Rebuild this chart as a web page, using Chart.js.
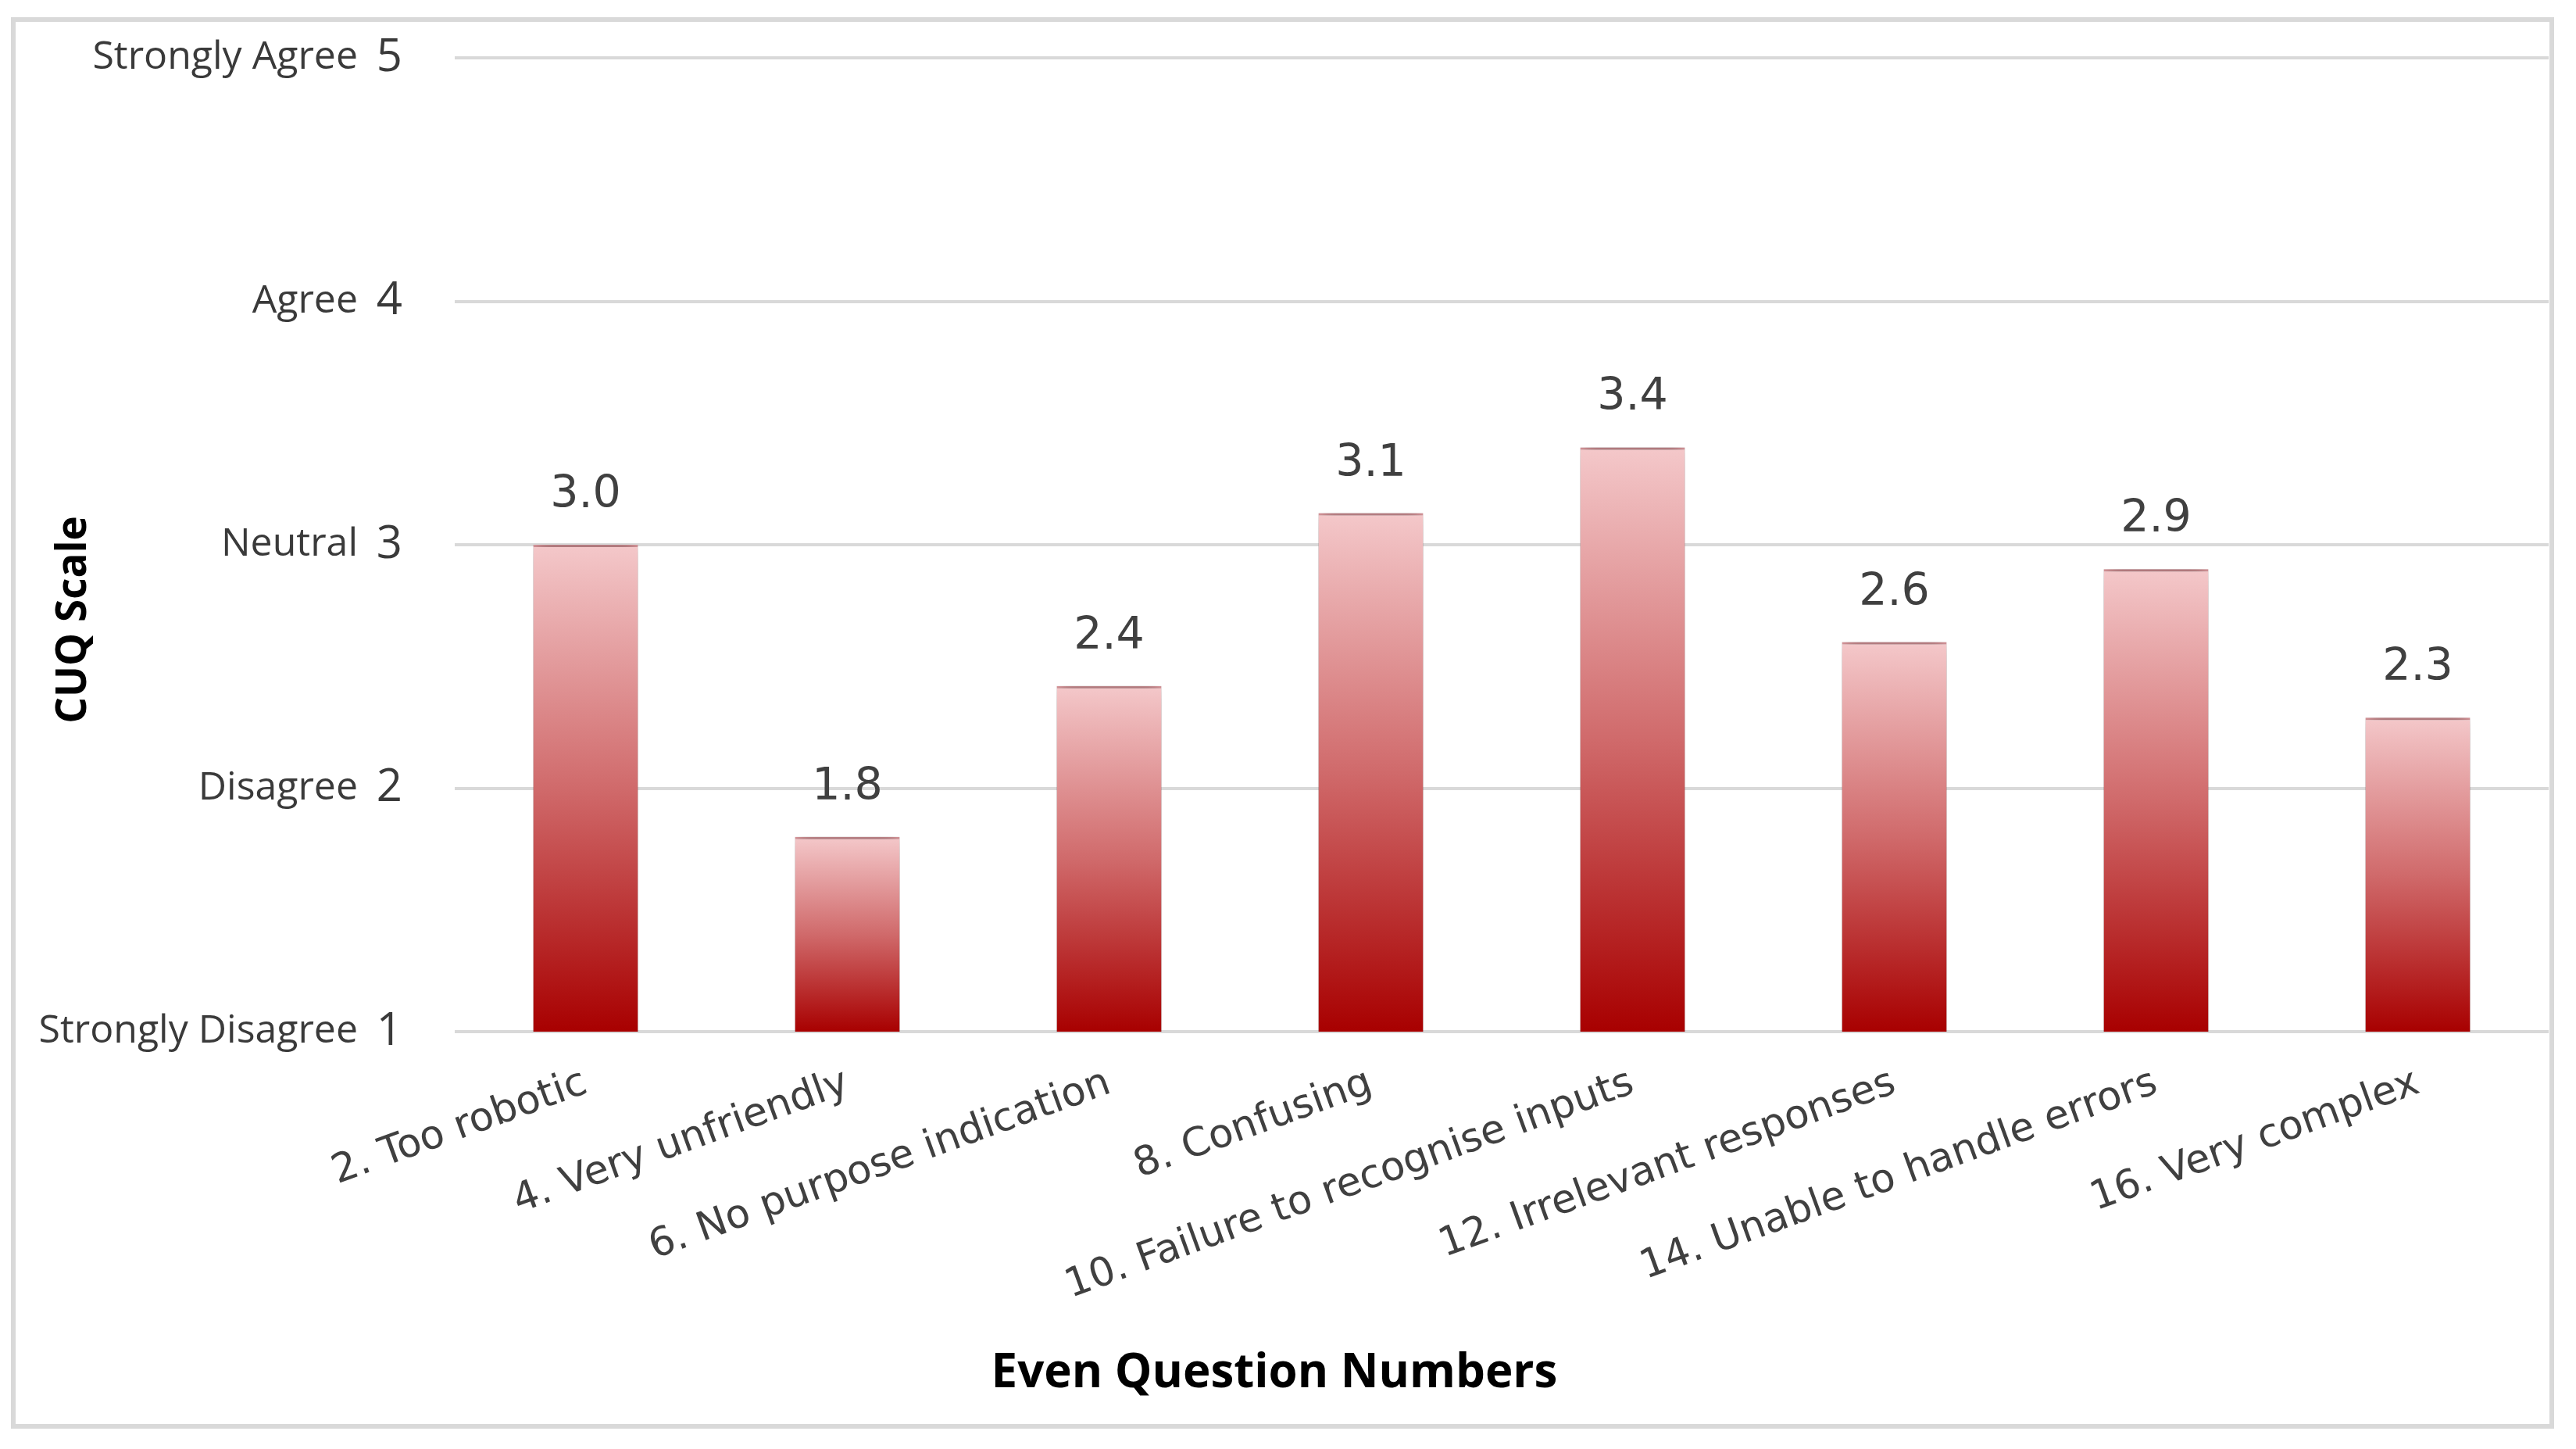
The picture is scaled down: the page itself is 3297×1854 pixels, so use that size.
<!DOCTYPE html>
<html>
<head>
<meta charset="utf-8">
<script src="https://cdn.jsdelivr.net/npm/chart.js@4.4.0/dist/chart.umd.min.js"></script>
<style>
  html, body { margin: 0; padding: 0; background: #fff; }
  #frame { position: absolute; left: 14px; top: 22px; width: 3255px; height: 1806px;
           border: 6px solid #d9d9d9; box-sizing: border-box; }
  #wrap { position: absolute; left: 0; top: 0; width: 3297px; height: 1854px; }
</style>
</head>
<body>
<div id="frame"></div>
<div id="wrap"><canvas id="cuqChart"></canvas></div>
<script>
const questions = [
    '2. Too robotic',
    '4. Very unfriendly',
    '6. No purpose indication',
    '8. Confusing',
    '10. Failure to recognise inputs',
    '12. Irrelevant responses',
    '14. Unable to handle errors',
    '16. Very complex',
];
const scores = [3.0, 1.8, 2.42, 3.13, 3.4, 2.6, 2.9, 2.29];
const scaleWords = ['Strongly Disagree', 'Disagree', 'Neutral', 'Agree', 'Strongly Agree'];
const xTitle = 'Even Question Numbers';
const yTitle = 'CUQ Scale';

// gradient per bar, light pink at the top down to dark red at the base
function barFill(c) {
    const chart = c.chart;
    if (!chart.chartArea || c.dataIndex === undefined) return '#a80000';
    const y = chart.scales.y;
    const top = y.getPixelForValue(scores[c.dataIndex]);
    const bottom = y.getPixelForValue(1);
    const g = chart.ctx.createLinearGradient(0, top, 0, bottom);
    g.addColorStop(0, '#f4c8ca');
    g.addColorStop(0.5, '#d06a6b');
    g.addColorStop(1, '#a80000');
    return g;
}

const barShadow = {
    id: 'barShadow',
    beforeDatasetsDraw(chart) {
        const ctx = chart.ctx;
        ctx.save();
        ctx.shadowColor = 'rgba(0, 0, 0, 0.6)';
        ctx.shadowBlur = 22;
    },
    afterDatasetsDraw(chart) {
        chart.ctx.restore();
    },
};

const valueLabels = {
    id: 'valueLabels',
    afterDraw(chart) {
        const ctx = chart.ctx;
        ctx.save();
        ctx.font = '57px "DejaVu Sans"';
        ctx.fillStyle = '#404040';
        ctx.textAlign = 'center';
        ctx.textBaseline = 'alphabetic';
        chart.getDatasetMeta(0).data.forEach((bar, i) => {
            ctx.fillText(scores[i].toFixed(1), bar.x, bar.y - 48);
        });
        ctx.restore();
    },
};

const sideTitle = {
    id: 'sideTitle',
    afterDraw(chart) {
        const ctx = chart.ctx;
        const a = chart.chartArea;
        ctx.save();
        ctx.translate(95, a.top + (a.bottom - a.top) * 0.577);
        ctx.rotate(-Math.PI / 2);
        ctx.font = 'bold 53px "Open Sans"';
        ctx.fillStyle = '#000';
        ctx.textAlign = 'center';
        ctx.textBaseline = 'middle';
        ctx.fillText(yTitle, 0, 0);
        ctx.restore();
    },
};

new Chart(document.getElementById('cuqChart'), {
    type: 'bar',
    data: {
        labels: questions,
        datasets: [{
            data: scores,
            backgroundColor: barFill,
            borderColor: '#f4a9ae',
            borderWidth: { top: 3, left: 0, right: 0, bottom: 0 },
            borderSkipped: false,
            barPercentage: 0.4,
            categoryPercentage: 1.0,
        }],
    },
    options: {
        responsive: true,
        maintainAspectRatio: false,
        animation: false,
        layout: { padding: { left: 0, right: 35, top: 74, bottom: 60 } },
        plugins: {
            legend: { display: false },
            tooltip: { enabled: false },
            title: {
                display: true,
                position: 'bottom',
                text: xTitle,
                color: '#000',
                font: { family: 'Open Sans', size: 60, weight: 'bold', lineHeight: 1.2 },
                padding: 0,
            },
        },
        scales: {
            x: {
                grid: { display: false },
                border: { display: false },
                ticks: {
                    color: '#404040',
                    font: { family: 'DejaVu Sans', size: 51 },
                    minRotation: 20,
                    maxRotation: 20,
                    padding: 28,
                    autoSkip: false,
                },
                afterFit(s) { s.height = 402; },
            },
            y: {
                min: 1,
                max: 5,
                weight: 0,
                grid: {
                    color: '#d9d9d9',
                    lineWidth: 4,
                    drawTicks: true,
                    tickLength: 60,
                    tickColor: 'rgba(0, 0, 0, 0)',
                },
                border: { display: false },
                ticks: {
                    stepSize: 1,
                    color: '#3a3a3a',
                    font: { family: 'Open Sans', size: 58 },
                    padding: 7,
                },
                afterFit(s) { s.width = 100; },
            },
            yWords: {
                position: 'left',
                min: 1,
                max: 5,
                weight: 1,
                grid: { display: false, drawTicks: false },
                border: { display: false },
                ticks: {
                    stepSize: 1,
                    color: '#3a3a3a',
                    font: { family: 'Open Sans', size: 50 },
                    padding: 24,
                    callback: (v) => scaleWords[v - 1],
                },
                afterFit(s) { s.width = 482; },
            },
        },
    },
    plugins: [barShadow, valueLabels, sideTitle],
});
</script>
</body>
</html>
